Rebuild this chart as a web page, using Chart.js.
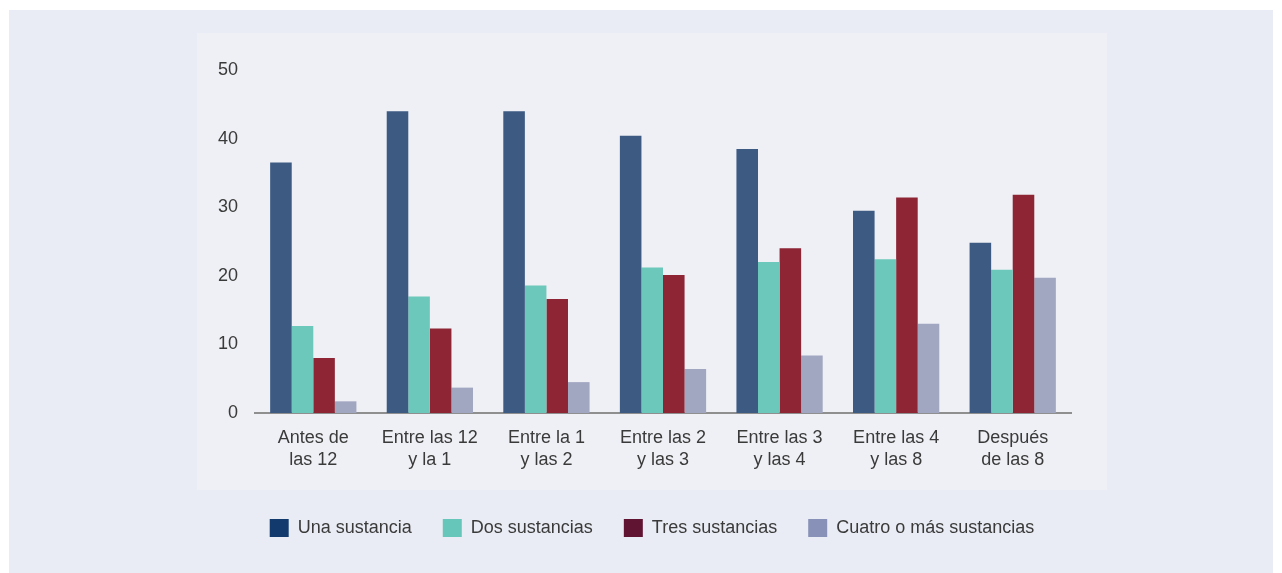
<!DOCTYPE html>
<html>
<head>
<meta charset="utf-8">
<script src="https://cdn.jsdelivr.net/npm/chart.js@4/dist/chart.umd.min.js"></script>
<style>
  html, body { margin: 0; padding: 0; background: #ffffff; }
  #wrap { width: 1282px; height: 573px; position: relative; }
  canvas { display: block; }
</style>
</head>
<body>
<div id="wrap"><canvas id="c" width="1282" height="573"></canvas></div>
<script>
const categories = [
  ["Antes de", "las 12"],
  ["Entre las 12", "y la 1"],
  ["Entre la 1", "y las 2"],
  ["Entre las 2", "y las 3"],
  ["Entre las 3", "y las 4"],
  ["Entre las 4", "y las 8"],
  ["Después", "de las 8"]
];
const seriesNames = ["Una sustancia", "Dos sustancias", "Tres sustancias", "Cuatro o más sustancias"];
const unaSustancia    = [36.5, 44.0, 44.0, 40.4, 38.5, 29.5, 24.8];
const dosSustancias   = [12.7, 17.0, 18.6, 21.2, 22.0, 22.4, 20.9];
const tresSustancias  = [8.0, 12.3, 16.6, 20.1, 24.0, 31.4, 31.8];
const cuatroOMas      = [1.7, 3.7, 4.5, 6.4, 8.4, 13.0, 19.7];
const yTicks = [0, 10, 20, 30, 40, 50];

const barColors = ["#3c5a82", "#6cc8ba", "#8e2535", "#a1a6c1"];
const legendColors = ["#133a6d", "#66c6b9", "#611432", "#8892b8"];
const FONT = '"Liberation Sans", Arial, Helvetica, sans-serif';
const TEXT = '#3a3a3a';

const bgPlugin = {
  id: 'bg',
  beforeDraw(chart) {
    const ctx = chart.ctx;
    ctx.save();
    ctx.fillStyle = '#ffffff';
    ctx.fillRect(0, 0, chart.width, chart.height);
    ctx.fillStyle = '#e9ecf4';
    ctx.fillRect(9, 10, 1264, 563);
    ctx.fillStyle = '#eff0f5';
    ctx.fillRect(197, 33, 910, 457);
    ctx.restore();
  }
};

// shift the legend's horizontal span so it is centred like the reference
const legendSpanPlugin = {
  id: 'legendSpan',
  afterLayout(chart) {
    if (chart.legend) {
      chart.legend.left = 233;
      chart.legend.right = 1071;
    }
  }
};

const allSeries = [unaSustancia, dosSustancias, tresSustancias, cuatroOMas];

new Chart(document.getElementById('c'), {
  type: 'bar',
  data: {
    labels: categories,
    datasets: allSeries.map((d, i) => ({
      label: seriesNames[i],
      data: d,
      backgroundColor: barColors[i],
      borderWidth: 0,
      categoryPercentage: 0.74,
      barPercentage: 1.0
    }))
  },
  options: {
    responsive: false,
    animation: false,
    layout: { padding: { left: 200, right: 211, top: 70, bottom: 26 } },
    plugins: {
      tooltip: { enabled: false },
      legend: {
        position: 'bottom',
        labels: {
          boxWidth: 19,
          boxHeight: 18,
          padding: 31,
          color: TEXT,
          font: { family: FONT, size: 18 },
          generateLabels(chart) {
            return seriesNames.map((n, i) => ({
              text: n,
              fillStyle: legendColors[i],
              strokeStyle: legendColors[i],
              lineWidth: 0,
              hidden: false,
              datasetIndex: i,
              fontColor: TEXT
            }));
          }
        }
      }
    },
    scales: {
      x: {
        grid: { display: false, drawTicks: false },
        border: { display: true, color: '#8f8f8f', width: 2 },
        ticks: {
          color: TEXT,
          font: { family: FONT, size: 18, lineHeight: 1.22 },
          padding: 14,
          maxRotation: 0,
          autoSkip: false
        },
        afterFit(scale) { scale.height = 75; }
      },
      y: {
        min: 0,
        max: 50,
        afterBuildTicks(scale) { scale.ticks = yTicks.map(v => ({ value: v })); },
        grid: { display: false, drawTicks: false },
        border: { display: false },
        ticks: {
          color: TEXT,
          font: { family: FONT, size: 18 },
          padding: 17
        },
        afterFit(scale) { scale.width = 55; }
      }
    }
  },
  plugins: [bgPlugin, legendSpanPlugin]
});
</script>
</body>
</html>
